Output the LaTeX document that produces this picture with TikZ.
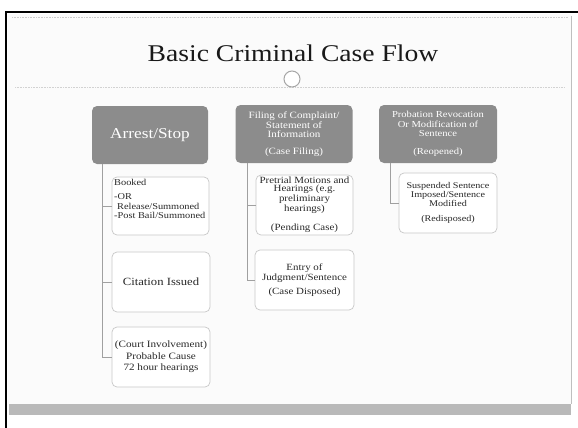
\documentclass[tikz,border=0pt]{standalone}
\usepackage{fontspec}
\setmainfont[FakeStretch=1.15]{Liberation Serif}
\definecolor{hdrgray}{RGB}{140,140,140}
\definecolor{kidborder}{RGB}{200,200,200}
\definecolor{linkgray}{RGB}{160,160,160}
\definecolor{slidebg}{RGB}{251,251,251}
\definecolor{bandgray}{RGB}{185,185,185}
\definecolor{txtgray}{RGB}{40,40,40}
\begin{document}
\begin{tikzpicture}[x=1pt,y=-1pt,
  hdr/.style={rectangle, rounded corners=5pt, fill=hdrgray, text=white, align=center,
    minimum width=117pt, minimum height=58pt, inner sep=2pt},
  kid/.style={rectangle, rounded corners=5pt, fill=white, draw=kidborder, line width=0.7pt,
    align=center, minimum width=98pt, minimum height=60pt, inner sep=2pt, text=txtgray},
  link/.style={draw=linkgray, line width=0.8pt}]
\useasboundingbox (0,0) rectangle (578,428);
\fill[white] (0,0) rectangle (578,428);
\fill[slidebg] (8,14) rectangle (571,404);
\fill[bandgray] (9,404) rectangle (571,415);
\draw[black, line width=2.5pt] (6,428) -- (6,12) -- (578,12);
\draw[gray!50, line width=0.6pt] (571,16) -- (571,404);
\draw[gray!40, densely dotted, line width=0.6pt] (12,17) -- (568,17);
\draw[gray!35, densely dotted, line width=0.6pt] (15,87) -- (565,87);

\node[anchor=base, text=black!90, inner sep=0, font=\fontsize{24}{28}\selectfont] (title) at (293,62) {Basic Criminal Case Flow};
\node[circle, draw=gray!70, line width=1pt, fill=white, minimum size=16pt, inner sep=0] (ring) at (292,79) {};

\node[hdr, minimum width=116pt, font=\fontsize{15}{17}\selectfont] (arrest) at (150,135) {Arrest/Stop};
\node[hdr, font=\fontsize{9.6}{9.5}\selectfont] (filing) at (294,134) {Filing of Complaint/\\Statement of\\Information\\[7pt](Case Filing)};
\node[hdr, minimum width=118pt, font=\fontsize{9.2}{9.5}\selectfont] (probation) at (438,134) {Probation Revocation\\Or Modification of\\Sentence\\[8pt](Reopened)};

\node[kid, minimum width=97pt, minimum height=58pt] (booked) at (160.5,206) {};
\node[anchor=north west, align=left, inner sep=0, text=txtgray, font=\fontsize{9}{9.5}\selectfont] (bookedtxt) at (114,179)
  {Booked\\[5pt]-OR\\\hspace{3pt}Release/Summoned\\-Post Bail/Summoned};
\node[kid, font=\fontsize{11}{12}\selectfont] (citation) at (161,282) {Citation Issued};
\node[kid, font=\fontsize{9.7}{11.5}\selectfont] (court) at (161,357) {(Court Involvement)\\Probable Cause\\72 hour hearings};

\node[kid, minimum width=97pt, font=\fontsize{9.5}{8}\selectfont] (pretrial) at (304.5,205) {Pretrial Motions and\\Hearings (e.g.\\preliminary\\hearings)\\[10pt](Pending Case)};
\node[kid, minimum width=99pt, font=\fontsize{9.5}{10.5}\selectfont] (entry) at (304.5,280) {Entry of\\Judgment/Sentence\\[3pt](Case Disposed)};

\node[kid, font=\fontsize{8.8}{7.6}\selectfont] (redisposed) at (448,203) {Suspended Sentence\\Imposed/Sentence\\Modified\\[7pt](Redisposed)};

\coordinate (tA) at (102,164);
\coordinate (tB) at (247,163);
\coordinate (tC) at (390,163);
\draw[link] (tA) |- (booked.west);
\draw[link] (tA) |- (citation.west);
\draw[link] (tA) |- (court.west);
\draw[link] (tB) |- (pretrial.west);
\draw[link] (tB) |- (entry.west);
\draw[link] (tC) |- (redisposed.west);
\end{tikzpicture}
\end{document}
